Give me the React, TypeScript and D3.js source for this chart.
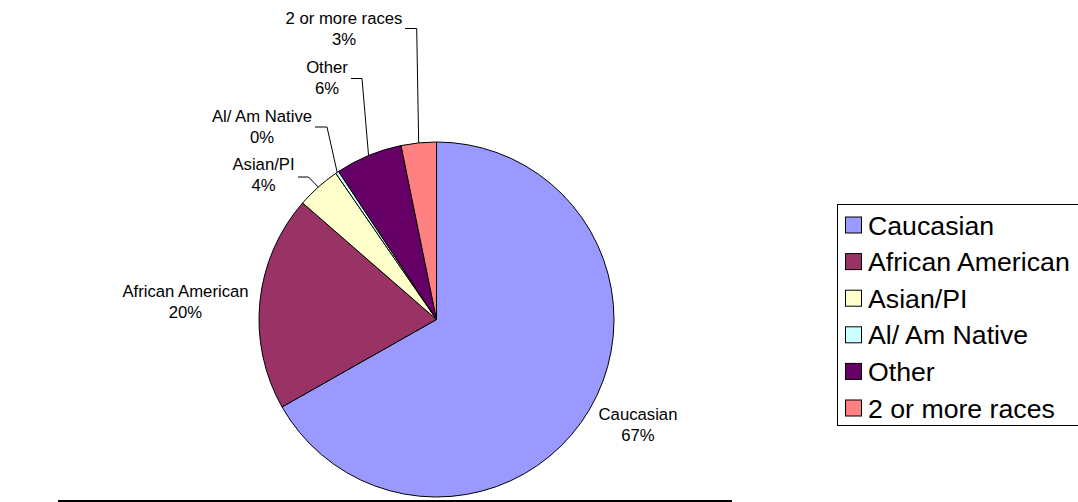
import React from "react";
import * as d3 from "d3";

const categories = ["Caucasian", "African American", "Asian/PI", "Al/ Am Native", "Other", "2 or more races"];
const values = [66.8, 19.6, 4.0, 0.3, 6.1, 3.2];
const percentLabels = ["67%", "20%", "4%", "0%", "6%", "3%"];
const colors = ["#9999FF", "#993366", "#FFFFCC", "#CCFFFF", "#660066", "#FF8080"];

// label layout: center x, baseline of first line, optional leader elbow and end
const labelLayout = [
  { x: 638, y: 420, leader: null },
  { x: 185.5, y: 297, leader: null },
  { x: 263.5, y: 170, leader: { ex: 308.5, ey: 177, hx: 298 } },
  { x: 262, y: 122, leader: { ex: 327, ey: 127, hx: 315 } },
  { x: 327, y: 73, leader: { ex: 362, ey: 78.5, hx: 351 } },
  { x: 344, y: 24, leader: { ex: 416.7, ey: 28.5, hx: 405 } },
];

export default function App() {
  const W = 1078, H = 502;
  const cx = 436.5, cy = 319.5, r = 177.5;
  const pie = d3.pie<number>().sort(null).startAngle(0).endAngle(2 * Math.PI);
  const arcs = pie(values);
  const arc = d3.arc<d3.PieArcDatum<number>>().innerRadius(0).outerRadius(r);
  const font = "'Liberation Sans', Arial, sans-serif";
  const legendY0 = 225, legendStep = 36.6;

  return (
    <svg width={W} height={H} style={{ position: "absolute", left: 0, top: 0 }} fontFamily={font}>
      <rect x={0} y={0} width={W} height={H} fill="#fff" />
      <g transform={`translate(${cx},${cy})`}>
        {arcs.map((a, i) => (
          <path key={i} d={arc(a) || ""} fill={colors[i]} stroke="#000" strokeWidth={1} strokeLinejoin="round" />
        ))}
      </g>
      {arcs.map((a, i) => {
        const L = labelLayout[i];
        const mid = (a.startAngle + a.endAngle) / 2;
        const sx = cx + r * Math.sin(mid);
        const sy = cy - r * Math.cos(mid);
        return (
          <g key={i}>
            {L.leader && (
              <polyline
                points={`${sx},${sy} ${L.leader.ex},${L.leader.ey} ${L.leader.hx},${L.leader.ey}`}
                fill="none"
                stroke="#000"
                strokeWidth={1}
              />
            )}
            <text x={L.x} y={L.y} textAnchor="middle" fontSize={16.7} fill="#000">
              {categories[i]}
            </text>
            <text x={L.x} y={L.y + 20.5} textAnchor="middle" fontSize={16.7} fill="#000">
              {percentLabels[i]}
            </text>
          </g>
        );
      })}
      <rect x={837.5} y={204.5} width={260} height={221} fill="#fff" stroke="#000" strokeWidth={1} />
      {categories.map((c, i) => {
        const yc = legendY0 + i * legendStep;
        return (
          <g key={c}>
            <rect x={845.5} y={yc - 8} width={16} height={16} fill={colors[i]} stroke="#000" strokeWidth={1} />
            <text x={868} y={yc + 9.5} fontSize={26.7} fill="#000">
              {c}
            </text>
          </g>
        );
      })}
      <line x1={58} x2={732} y1={501} y2={501} stroke="#000" strokeWidth={2} />
    </svg>
  );
}
